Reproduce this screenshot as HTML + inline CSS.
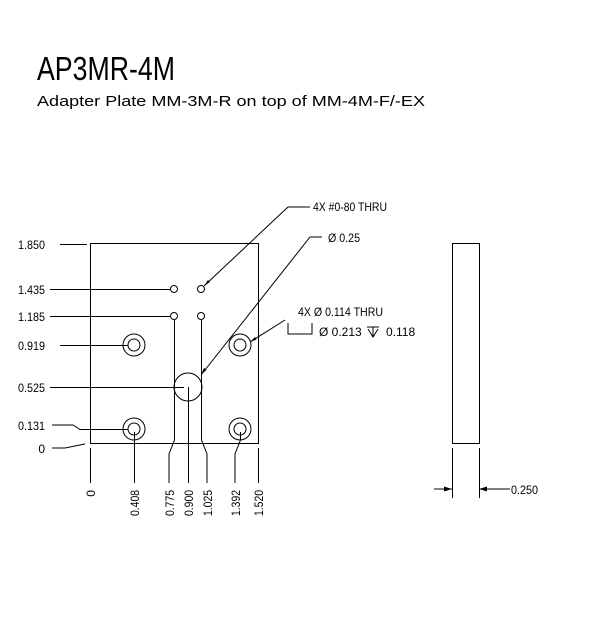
<!DOCTYPE html>
<html><head><meta charset="utf-8"><style>body{margin:0;background:#fff}svg{display:block}</style></head><body>
<svg width="612" height="638" xmlns="http://www.w3.org/2000/svg" font-family="Liberation Sans, sans-serif">
<text x="37" y="80" font-size="33" textLength="138" lengthAdjust="spacingAndGlyphs">AP3MR-4M</text>
<text x="37" y="106" font-size="15" textLength="388" lengthAdjust="spacingAndGlyphs">Adapter Plate MM-3M-R on top of MM-4M-F/-EX</text>
<g stroke="#000" fill="none" stroke-width="1">
<rect x="90.5" y="243.5" width="168" height="200"/>
<circle cx="174" cy="289" r="3.5"/><circle cx="201" cy="289" r="3.5"/>
<circle cx="174" cy="316" r="3.5"/><circle cx="201" cy="316" r="3.5"/>
<circle cx="134" cy="345" r="11"/><circle cx="134" cy="345" r="6"/>
<circle cx="240" cy="345" r="11"/><circle cx="240" cy="345" r="6"/>
<circle cx="134" cy="429" r="11"/><circle cx="134" cy="429" r="6"/>
<circle cx="240" cy="429" r="11"/><circle cx="240" cy="429" r="6"/>
<circle cx="188" cy="387" r="14"/>
<rect x="452.5" y="243.5" width="27" height="200"/>
<!-- left ordinates -->
<path d="M60 244.5H87M50 289.5H170M50 316.5H170M60 345.5H128M50 387.5H184M52 425H73L80 429.5H128M52 448H65L85 444"/>
<!-- bottom ordinates -->
<path d="M90.5 448V483M134.5 432V483M174.5 320V440L169 454V483M188.5 387V483M201.5 320V440L207 454V483M240.5 432V440L235 454V483M258.5 448V483"/>
<!-- side dims -->
<path d="M452.5 448V498M479.5 448V498M434 489H452M479 489H510"/>
<!-- leaders -->
<path d="M204 286L288 207H310M201 375L310 237H322M250 342L285 320M288 323V334H312V323"/>
</g>
<g fill="#000">
<path d="M452 489l-8-2.5v5zM479 489l8-2.5v5z"/>
<path d="M204 286l4-6 2 2z"/>
<path d="M201 375l3-7 2.5 1.8z"/>
<path d="M250 342l5-5 1.5 2.5z"/>
</g>
<g font-size="12" text-anchor="end">
<text x="45" y="249" textLength="27" lengthAdjust="spacingAndGlyphs">1.850</text>
<text x="45" y="294" textLength="27" lengthAdjust="spacingAndGlyphs">1.435</text>
<text x="45" y="321" textLength="27" lengthAdjust="spacingAndGlyphs">1.185</text>
<text x="45" y="350" textLength="27" lengthAdjust="spacingAndGlyphs">0.919</text>
<text x="45" y="392" textLength="27" lengthAdjust="spacingAndGlyphs">0.525</text>
<text x="45" y="430" textLength="27" lengthAdjust="spacingAndGlyphs">0.131</text>
<text x="45" y="453">0</text>
</g>
<g font-size="12" text-anchor="end">
<text transform="translate(95 490) rotate(-90)">0</text>
<text transform="translate(139 490) rotate(-90)" textLength="26" lengthAdjust="spacingAndGlyphs">0.408</text>
<text transform="translate(174 490) rotate(-90)" textLength="26" lengthAdjust="spacingAndGlyphs">0.775</text>
<text transform="translate(193 490) rotate(-90)" textLength="26" lengthAdjust="spacingAndGlyphs">0.900</text>
<text transform="translate(212 490) rotate(-90)" textLength="26" lengthAdjust="spacingAndGlyphs">1.025</text>
<text transform="translate(240 490) rotate(-90)" textLength="26" lengthAdjust="spacingAndGlyphs">1.392</text>
<text transform="translate(263 490) rotate(-90)" textLength="26" lengthAdjust="spacingAndGlyphs">1.520</text>
</g>
<g font-size="12">
<text x="313" y="211" textLength="74" lengthAdjust="spacingAndGlyphs">4X #0-80 THRU</text>
<text x="328" y="242" textLength="32" lengthAdjust="spacingAndGlyphs">Ø 0.25</text>
<text x="298" y="316" textLength="85" lengthAdjust="spacingAndGlyphs">4X Ø 0.114 THRU</text>
<text x="319" y="336">Ø  0.213</text>
<text x="386" y="336">0.118</text>
<text x="511" y="494" textLength="27" lengthAdjust="spacingAndGlyphs">0.250</text>
</g>
<path d="M367 327H379M373 327V337M368 329L373 337L378 329" stroke="#000" fill="none"/>
</svg>
</body></html>
